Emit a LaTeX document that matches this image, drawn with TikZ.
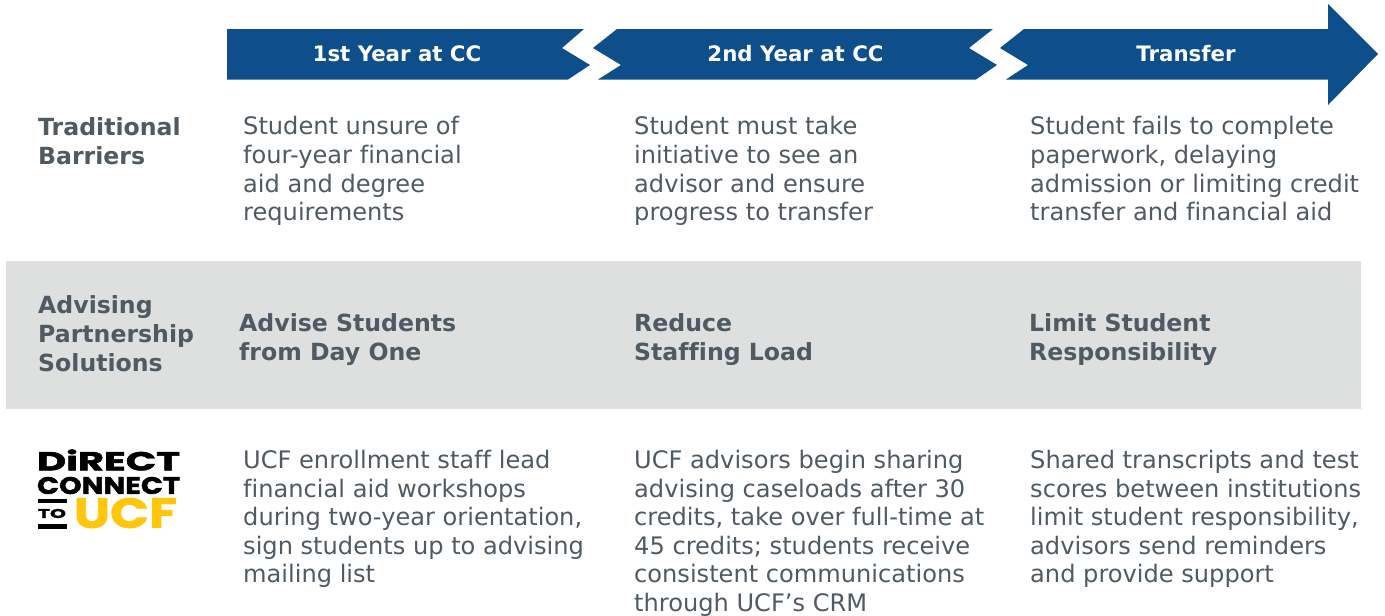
\documentclass[tikz,border=0pt]{standalone}
\usepackage{fontspec}
\setmainfont[Ligatures=NoCommon]{DejaVu Sans}
\newfontfamily\logofont[BoldFeatures={FakeBold=1.6}]{Poppins}
\definecolor{bandblue}{HTML}{0E4F8B}
\definecolor{bodygrey}{HTML}{4F5A63}
\definecolor{bandgrey}{HTML}{DEE0E0}
\definecolor{ucfgold}{HTML}{FFC60A}
\tikzset{
  x=1pt,y=-1pt,
  chevron/.style={fill=bandblue,draw=none},
  headtext/.style={text=white,font=\fontsize{21.3}{24}\selectfont\bfseries,anchor=center,inner sep=0pt},
  bodytext/.style={text=bodygrey,font=\fontsize{24.1}{28.8}\selectfont,anchor=north west,align=left,inner sep=0pt},
  tighttext/.style={bodytext,font=\fontsize{24.1}{28.5}\selectfont},
  boldtext/.style={text=bodygrey,font=\fontsize{23.6}{29}\selectfont\bfseries,anchor=north west,align=left,inner sep=0pt},
  logotext/.style={inner sep=0pt,anchor=center}
}
\begin{document}
\begin{tikzpicture}
\useasboundingbox (0,0) rectangle (1385,616);
\fill[white] (0,0) rectangle (1385,616);
\fill[chevron] (227,29) -- (584,29) -- (562,48) -- (590,65) -- (568,79.5) -- (227,79.5) -- cycle;
\fill[chevron] (617,29) -- (993,29) -- (969,48) -- (997,65) -- (976,79.5) -- (598,79.5) -- (621,65) -- (593,48) -- cycle;
\fill[chevron] (1024,29) -- (1328,29) -- (1328,4) -- (1378,54) -- (1328,105) -- (1328,79.5) -- (1006,79.5) -- (1028,65) -- (1000,48) -- cycle;
\fill[bandgrey] (6,261) rectangle (1361,409);
\node[headtext] (h1) at (397,54) {1st Year at CC};
\node[headtext] (h2) at (795.5,54) {2nd Year at CC};
\node[headtext] (h3) at (1186,54) {Transfer};
\node[boldtext] (r1) at (38,117) {Traditional\\Barriers};
\node[boldtext] (r2) at (38,295) {Advising\\Partnership\\Solutions};
\node[bodytext] (b1) at (243,116) {Student unsure of\\four-year financial\\aid and degree\\requirements};
\node[bodytext] (b2) at (634,116) {Student must take\\initiative to see an\\advisor and ensure\\progress to transfer};
\node[bodytext] (b3) at (1030,116) {Student fails to complete\\paperwork, delaying\\admission or limiting credit\\transfer and financial aid};
\node[boldtext] (s1) at (239,313) {Advise Students\\from Day One};
\node[boldtext] (s2) at (634,313) {Reduce\\Staffing Load};
\node[boldtext] (s3) at (1029,313) {Limit Student\\Responsibility};
\node[tighttext] (c1) at (243,450) {UCF enrollment staff lead\\financial aid workshops\\during two-year orientation,\\sign students up to advising\\mailing list};
\node[tighttext] (c2) at (634,450) {UCF advisors begin sharing\\advising caseloads after 30\\credits, take over full-time at\\45 credits; students receive\\consistent communications\\through UCF’s CRM};
\node[tighttext] (c3) at (1030,450) {Shared transcripts and test\\scores between institutions\\limit student responsibility,\\advisors send reminders\\and provide support};
% logo
\node[logotext] (l1) at (108.5,460) {\resizebox{143pt}{21pt}{\logofont\bfseries DiRECT}};
\node[logotext] (l2) at (108.5,485.5) {\resizebox{143pt}{17pt}{\logofont\bfseries CONNECT}};
\node[logotext] (l3) at (125.5,513) {\resizebox{103pt}{30pt}{\color{ucfgold}\logofont\bfseries UCF}};
\node[logotext] (l4) at (52,513.5) {\resizebox{28pt}{9pt}{\logofont\bfseries TO}};
\fill[black] (37.5,498.5) rectangle (67,503);
\fill[black] (37.5,524) rectangle (67,528.5);
\end{tikzpicture}
\end{document}
